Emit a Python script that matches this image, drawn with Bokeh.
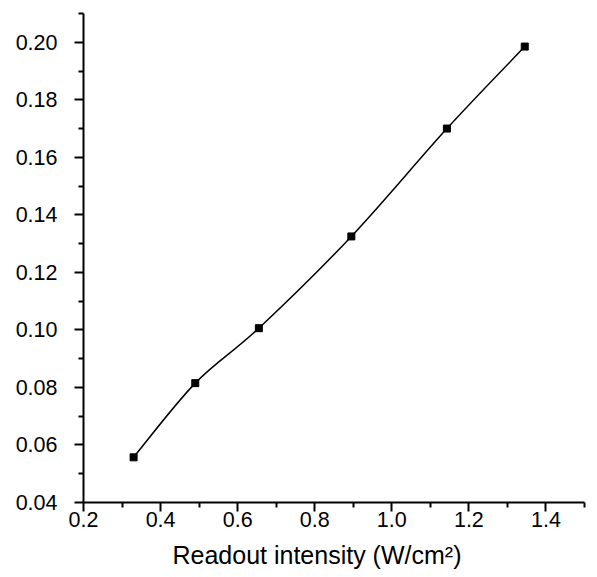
from bokeh.plotting import figure
from bokeh.models import FixedTicker, Range1d, NumeralTickFormatter, Title
from bokeh.embed import file_html
from bokeh.resources import INLINE

# Data
intensity = [0.33, 0.49, 0.655, 0.895, 1.143, 1.345]
efficiency = [0.0557, 0.0815, 0.1006, 0.1325, 0.1700, 0.1985]

x_major = [0.2, 0.4, 0.6, 0.8, 1.0, 1.2, 1.4]
x_minor = [0.3, 0.5, 0.7, 0.9, 1.1, 1.3, 1.5]
y_major = [0.04, 0.06, 0.08, 0.10, 0.12, 0.14, 0.16, 0.18, 0.20]
y_minor = [0.05, 0.07, 0.09, 0.11, 0.13, 0.15, 0.17, 0.19, 0.21]
x_title = "Readout intensity (W/cm²)"

FONT = "Liberation Sans"

p = figure(width=597, height=577, output_backend="svg", toolbar_location=None,
           x_range=Range1d(0.2, 1.5), y_range=Range1d(0.04, 0.21),
           min_border_left=83, min_border_right=13, min_border_top=13, min_border_bottom=75)
p.outline_line_color = None
p.xgrid.visible = False
p.ygrid.visible = False

# smooth curve through the points (Catmull-Rom -> cubic Bezier)
n = len(intensity)
x0s, y0s, x1s, y1s, cx0, cy0, cx1, cy1 = [], [], [], [], [], [], [], []
for i in range(n - 1):
    pm = max(i - 1, 0)
    pp = min(i + 2, n - 1)
    x0s.append(intensity[i]); y0s.append(efficiency[i])
    x1s.append(intensity[i + 1]); y1s.append(efficiency[i + 1])
    cx0.append(intensity[i] + (intensity[i + 1] - intensity[pm]) / 6)
    cy0.append(efficiency[i] + (efficiency[i + 1] - efficiency[pm]) / 6)
    cx1.append(intensity[i + 1] - (intensity[pp] - intensity[i]) / 6)
    cy1.append(efficiency[i + 1] - (efficiency[pp] - efficiency[i]) / 6)
p.bezier(x0=x0s, y0=y0s, x1=x1s, y1=y1s, cx0=cx0, cy0=cy0, cx1=cx1, cy1=cy1,
         line_color="black", line_width=1.5)

p.scatter(intensity, efficiency, marker="square", size=7, color="black")

for ax in (p.xaxis[0], p.yaxis[0]):
    ax.axis_line_width = 2
    ax.major_tick_line_width = 2
    ax.minor_tick_line_width = 2
    ax.major_tick_out = 9
    ax.major_tick_in = 0
    ax.minor_tick_out = 5
    ax.minor_tick_in = 0
    ax.major_label_text_font = FONT
    ax.major_label_text_font_size = "21.5px"
    ax.major_label_text_color = "black"

p.xaxis[0].ticker = FixedTicker(ticks=x_major, minor_ticks=x_minor)
p.yaxis[0].ticker = FixedTicker(ticks=y_major, minor_ticks=y_minor)
p.xaxis[0].formatter = NumeralTickFormatter(format="0.0")
p.yaxis[0].formatter = NumeralTickFormatter(format="0.00")
p.xaxis[0].major_label_standoff = 0
p.yaxis[0].major_label_standoff = 17

xt = Title(text=x_title, align="left", offset=89, text_font=FONT,
           text_font_size="25px", text_font_style="normal", text_color="black",
           standoff=18)
p.add_layout(xt, "below")

open("out.html", "w").write(file_html(p, INLINE))
